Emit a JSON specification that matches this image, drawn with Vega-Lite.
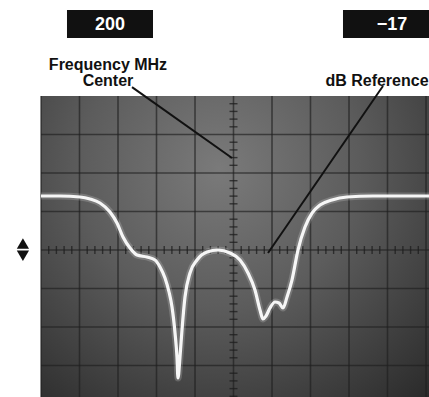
{
  "$schema": "https://vega.github.io/schema/vega-lite/v6.json",
  "width": 429,
  "height": 397,
  "padding": 0,
  "autosize": {"type": "none"},
  "background": "white",
  "config": {"view": {"stroke": null}},
  "datasets": {
    "screen": [{"x": -5, "x2": 5.078, "y": -3.818, "y2": 4}],
    "grid": [
      {"x": -5, "x2": -5, "y": -3.818, "y2": 4},
      {"x": -4, "x2": -4, "y": -3.818, "y2": 4},
      {"x": -3, "x2": -3, "y": -3.818, "y2": 4},
      {"x": -2, "x2": -2, "y": -3.818, "y2": 4},
      {"x": -1, "x2": -1, "y": -3.818, "y2": 4},
      {"x": 0, "x2": 0, "y": -3.818, "y2": 4},
      {"x": 1, "x2": 1, "y": -3.818, "y2": 4},
      {"x": 2, "x2": 2, "y": -3.818, "y2": 4},
      {"x": 3, "x2": 3, "y": -3.818, "y2": 4},
      {"x": 4, "x2": 4, "y": -3.818, "y2": 4},
      {"x": 5, "x2": 5, "y": -3.818, "y2": 4},
      {"x": -5, "x2": 5.078, "y": -3, "y2": -3},
      {"x": -5, "x2": 5.078, "y": -2, "y2": -2},
      {"x": -5, "x2": 5.078, "y": -1, "y2": -1},
      {"x": -5, "x2": 5.078, "y": 0, "y2": 0},
      {"x": -5, "x2": 5.078, "y": 1, "y2": 1},
      {"x": -5, "x2": 5.078, "y": 2, "y2": 2},
      {"x": -5, "x2": 5.078, "y": 3, "y2": 3}
    ],
    "vticks": [
      {"x": 0, "y": -3.8}, {"x": 0, "y": -3.6}, {"x": 0, "y": -3.4}, {"x": 0, "y": -3.2},
      {"x": 0, "y": -2.8}, {"x": 0, "y": -2.6}, {"x": 0, "y": -2.4}, {"x": 0, "y": -2.2},
      {"x": 0, "y": -1.8}, {"x": 0, "y": -1.6}, {"x": 0, "y": -1.4}, {"x": 0, "y": -1.2},
      {"x": 0, "y": -0.8}, {"x": 0, "y": -0.6}, {"x": 0, "y": -0.4}, {"x": 0, "y": -0.2},
      {"x": 0, "y": 0.2}, {"x": 0, "y": 0.4}, {"x": 0, "y": 0.6}, {"x": 0, "y": 0.8},
      {"x": 0, "y": 1.2}, {"x": 0, "y": 1.4}, {"x": 0, "y": 1.6}, {"x": 0, "y": 1.8},
      {"x": 0, "y": 2.2}, {"x": 0, "y": 2.4}, {"x": 0, "y": 2.6}, {"x": 0, "y": 2.8},
      {"x": 0, "y": 3.2}, {"x": 0, "y": 3.4}, {"x": 0, "y": 3.6}, {"x": 0, "y": 3.8}
    ],
    "hticks": [
      {"x": -4.8, "y": 0}, {"x": -4.6, "y": 0}, {"x": -4.4, "y": 0}, {"x": -4.2, "y": 0},
      {"x": -3.8, "y": 0}, {"x": -3.6, "y": 0}, {"x": -3.4, "y": 0}, {"x": -3.2, "y": 0},
      {"x": -2.8, "y": 0}, {"x": -2.6, "y": 0}, {"x": -2.4, "y": 0}, {"x": -2.2, "y": 0},
      {"x": -1.8, "y": 0}, {"x": -1.6, "y": 0}, {"x": -1.4, "y": 0}, {"x": -1.2, "y": 0},
      {"x": -0.8, "y": 0}, {"x": -0.6, "y": 0}, {"x": -0.4, "y": 0}, {"x": -0.2, "y": 0},
      {"x": 0.2, "y": 0}, {"x": 0.4, "y": 0}, {"x": 0.6, "y": 0}, {"x": 0.8, "y": 0},
      {"x": 1.2, "y": 0}, {"x": 1.4, "y": 0}, {"x": 1.6, "y": 0}, {"x": 1.8, "y": 0},
      {"x": 2.2, "y": 0}, {"x": 2.4, "y": 0}, {"x": 2.6, "y": 0}, {"x": 2.8, "y": 0},
      {"x": 3.2, "y": 0}, {"x": 3.4, "y": 0}, {"x": 3.6, "y": 0}, {"x": 3.8, "y": 0},
      {"x": 4.2, "y": 0}, {"x": 4.4, "y": 0}, {"x": 4.6, "y": 0}, {"x": 4.8, "y": 0}
    ],
    "pointers": [
      {"x": -2.636, "y": 4.23, "x2": -0.039, "y2": 2.39},
      {"x": 3.883, "y": 4.26, "x2": 0.896, "y2": -0.078}
    ],
    "trace": [
      {"x": -5.0, "y": 1.403}, {"x": -4.506, "y": 1.403}, {"x": -3.987, "y": 1.377},
      {"x": -3.727, "y": 1.325}, {"x": -3.468, "y": 1.221}, {"x": -3.208, "y": 0.987},
      {"x": -3.026, "y": 0.701}, {"x": -2.87, "y": 0.338}, {"x": -2.688, "y": 0.052},
      {"x": -2.506, "y": -0.13}, {"x": -2.247, "y": -0.182}, {"x": -2.039, "y": -0.26},
      {"x": -1.909, "y": -0.442}, {"x": -1.779, "y": -0.727}, {"x": -1.675, "y": -1.091},
      {"x": -1.597, "y": -1.481}, {"x": -1.519, "y": -2.156}, {"x": -1.468, "y": -2.779},
      {"x": -1.442, "y": -3.325}, {"x": -1.39, "y": -2.779}, {"x": -1.338, "y": -2.078},
      {"x": -1.26, "y": -1.221}, {"x": -1.13, "y": -0.597}, {"x": -0.948, "y": -0.26},
      {"x": -0.688, "y": -0.052}, {"x": -0.403, "y": 0.0}, {"x": -0.091, "y": -0.078},
      {"x": 0.169, "y": -0.26}, {"x": 0.377, "y": -0.597}, {"x": 0.558, "y": -1.039},
      {"x": 0.688, "y": -1.558}, {"x": 0.766, "y": -1.792}, {"x": 0.844, "y": -1.714},
      {"x": 0.948, "y": -1.506}, {"x": 1.078, "y": -1.351}, {"x": 1.182, "y": -1.377},
      {"x": 1.286, "y": -1.506}, {"x": 1.39, "y": -1.221}, {"x": 1.519, "y": -0.779},
      {"x": 1.675, "y": 0.0}, {"x": 1.857, "y": 0.597}, {"x": 2.039, "y": 0.961},
      {"x": 2.247, "y": 1.169}, {"x": 2.558, "y": 1.299}, {"x": 2.948, "y": 1.377},
      {"x": 3.623, "y": 1.403}, {"x": 5.078, "y": 1.403}
    ],
    "boxes": [
      {"x": -4.325, "x2": -2.091, "y": 5.506, "y2": 6.234},
      {"x": 2.844, "x2": 5.078, "y": 5.506, "y2": 6.234}
    ],
    "readouts": [
      {"x": -3.208, "y": 5.714, "text": "200"},
      {"x": 4.117, "y": 5.714, "text": "−17"}
    ],
    "labels": [
      {"x": -3.26, "y": 4.675, "text": "Frequency MHz"},
      {"x": -3.26, "y": 4.26, "text": "Center"},
      {"x": 3.727, "y": 4.26, "text": "dB Reference"}
    ],
    "marker": [
      {"x": -5.47, "y": 0.17, "shape": "up"},
      {"x": -5.47, "y": -0.15, "shape": "down"}
    ]
  },
  "encoding": {
    "x": {"field": "x", "type": "quantitative", "axis": null,
          "scale": {"domain": [-6.065, 5.078], "nice": false, "zero": false}},
    "y": {"field": "y", "type": "quantitative", "axis": null,
          "scale": {"domain": [-3.818, 6.494], "nice": false, "zero": false}}
  },
  "layer": [
    {
      "data": {"name": "screen"},
      "mark": {"type": "rect", "color": {
        "gradient": "radial", "x1": 0.46, "y1": 0.3, "r1": 0, "x2": 0.46, "y2": 0.3, "r2": 0.8,
        "stops": [
          {"offset": 0, "color": "#7a7a7a"},
          {"offset": 0.45, "color": "#5c5c5c"},
          {"offset": 1, "color": "#2a2a2a"}
        ]}},
      "encoding": {"x2": {"field": "x2"}, "y2": {"field": "y2"}}
    },
    {
      "data": {"name": "grid"},
      "mark": {"type": "rule", "color": "#1e1e1e", "strokeWidth": 1.6, "opacity": 0.65},
      "encoding": {"x2": {"field": "x2"}, "y2": {"field": "y2"}}
    },
    {
      "data": {"name": "vticks"},
      "mark": {"type": "tick", "orient": "horizontal", "color": "#1e1e1e", "size": 8, "thickness": 1.4, "opacity": 0.75},
      "encoding": {}
    },
    {
      "data": {"name": "hticks"},
      "mark": {"type": "tick", "orient": "vertical", "color": "#1e1e1e", "size": 8, "thickness": 1.4, "opacity": 0.75},
      "encoding": {}
    },
    {
      "data": {"name": "pointers"},
      "mark": {"type": "rule", "color": "#111111", "strokeWidth": 2},
      "encoding": {"x2": {"field": "x2"}, "y2": {"field": "y2"}}
    },
    {
      "data": {"name": "trace"},
      "mark": {"type": "line", "color": "#ffffff", "strokeWidth": 7, "opacity": 0.18, "interpolate": "monotone"},
      "encoding": {}
    },
    {
      "data": {"name": "trace"},
      "mark": {"type": "line", "color": "#f6f6f6", "strokeWidth": 3.2, "interpolate": "monotone"},
      "encoding": {}
    },
    {
      "data": {"name": "boxes"},
      "mark": {"type": "rect", "color": "#111111"},
      "encoding": {"x2": {"field": "x2"}, "y2": {"field": "y2"}}
    },
    {
      "data": {"name": "readouts"},
      "mark": {"type": "text", "color": "#ffffff", "font": "Liberation Sans", "fontWeight": "bold", "fontSize": 18, "align": "center", "baseline": "alphabetic"},
      "encoding": {"text": {"field": "text"}}
    },
    {
      "data": {"name": "labels"},
      "mark": {"type": "text", "color": "#111111", "font": "Liberation Sans", "fontWeight": "bold", "fontSize": 16, "align": "center", "baseline": "alphabetic"},
      "encoding": {"text": {"field": "text"}}
    },
    {
      "data": {"name": "marker"},
      "mark": {"type": "point", "filled": true, "color": "#111111", "size": 150, "opacity": 1},
      "encoding": {
        "shape": {"field": "shape", "type": "nominal", "legend": null,
                  "scale": {"domain": ["up", "down"], "range": ["triangle-up", "triangle-down"]}}
      }
    }
  ]
}
